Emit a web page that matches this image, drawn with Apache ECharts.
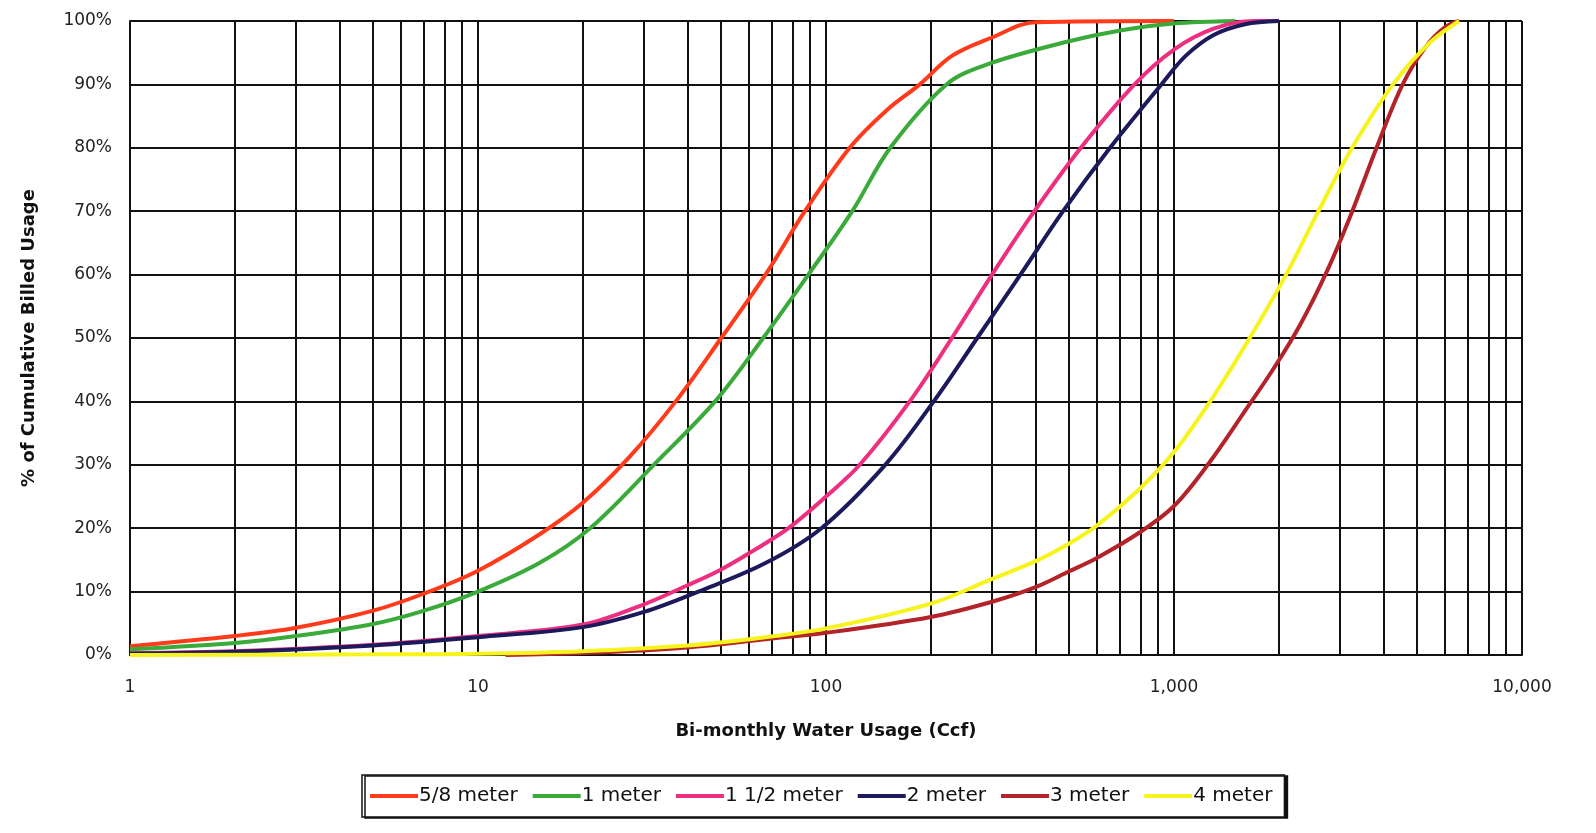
<!DOCTYPE html>
<html><head><meta charset="utf-8">
<script src="https://cdn.jsdelivr.net/npm/echarts@6/dist/echarts.min.js"></script>
<style>html,body{margin:0;padding:0;background:#fff}#c{width:1596px;height:833px}</style>
</head><body><div id="c"></div>
<script>
const seriesNames = ['5/8 meter','1 meter','1 1/2 meter','2 meter','3 meter','4 meter'];
const seriesColors = ['#ff3b1c','#3aab3a','#ee2f80','#1d1a5c','#b3242a','#f6f41c'];
const xTicks = [1,10,100,1000,10000];
const yTicks = [0,10,20,30,40,50,60,70,80,90,100];

const meter58 = [[1,1.4],[2,3],[3,4.3],[5,7],[7,9.7],[10,13.3],[15,19],[20,24],[27,31],[37,40],[50,50],[67,60],[87,70],[117,80],[150,86],[186,90],[230,94.5],[300,97.4],[400,99.8],[1000,100]];
const meter1 = [[1,0.9],[2,1.9],[3,3],[5,4.9],[7,7],[10,10],[15,14.5],[21,20],[32,30],[48,40],[66,50],[89,60],[119,70],[153,80],[222,90],[292,93.2],[482,96.6],[700,98.5],[1000,99.6],[1500,100]];
const meter112 = [[1,0.3],[2,0.6],[5,1.6],[10,3],[20,4.8],[30,8],[40,11],[50,13.5],[62,16.5],[78,20],[100,25],[125,30],[174,40],[230,50],[300,60],[397,70],[540,80],[770,90],[1000,95.5],[1300,98.8],[1700,100],[2000,100]];
const meter2 = [[1,0.2],[2,0.5],[5,1.5],[10,2.8],[20,4.4],[30,6.8],[43,10],[67,14.5],[97,20],[148,30],[204,40],[272,50],[362,60],[480,70],[655,80],[920,90],[1080,94.5],[1300,97.8],[1600,99.5],[2000,100]];
const meter3 = [[12,0],[20,0.3],[40,1.2],[67,2.5],[100,3.5],[200,6],[300,8.4],[400,10.7],[500,13.2],[600,15.3],[800,19.4],[1000,23.5],[1250,30],[1600,38.5],[1950,45.5],[2300,52],[2750,60.5],[3200,69],[3820,80],[4540,90],[5300,96],[6000,99],[6600,100]];
const meter4 = [[1,0],[5,0.1],[10,0.2],[20,0.6],[40,1.5],[67,2.8],[100,4.2],[200,8.1],[300,12],[400,14.8],[500,17.6],[600,20.4],[800,26.3],[1000,32],[1270,40],[1650,50],[2100,60],[2600,70],[3250,80],[4260,90],[5440,96.6],[6600,100]];
const allData = [meter58, meter1, meter112, meter2, meter3, meter4];

const minorX = [];
for (let d = 1; d < 10000; d *= 10) for (let k = 2; k <= 9; k++) minorX.push(d * k);

const FONT = 'DejaVu Sans';
const chart = echarts.init(document.getElementById('c'));
const series = seriesNames.map((n, i) => ({
  name: n, type: 'line', data: allData[i], smooth: 0.35, symbol: 'none',
  lineStyle: {width: 4, color: seriesColors[i]}, itemStyle: {color: seriesColors[i]}, z: 10 + i
}));
series.push({
  name: 'grid', type: 'line', data: [], silent: true, z: 2,
  markLine: {silent: true, symbol: 'none', label: {show: false},
    lineStyle: {color: '#111', width: 2, type: 'solid'},
    data: minorX.map(v => ({xAxis: v}))}
});
chart.setOption({
  animation: false,
  backgroundColor: '#fff',
  grid: {left: 130, right: 74, top: 21, bottom: 178},
  xAxis: {
    type: 'log', logBase: 10, min: 1, max: 10000,
    name: 'Bi-monthly Water Usage (Ccf)', nameLocation: 'middle', nameGap: 67,
    nameTextStyle: {fontFamily: FONT, fontWeight: 'bold', fontSize: 18, color: '#111'},
    axisLine: {lineStyle: {color: '#111', width: 2}}, axisTick: {show: false},
    axisLabel: {margin: 24, fontFamily: FONT, fontSize: 17, color: '#222',
      formatter: v => xTicks.includes(Math.round(v)) ? Math.round(v).toLocaleString('en-US') : ''},
    splitLine: {show: true, lineStyle: {color: '#111', width: 2}}
  },
  yAxis: {
    type: 'value', min: 0, max: 100, interval: 10,
    name: '% of Cumulative Billed Usage', nameLocation: 'middle', nameGap: 92, nameRotate: 90,
    nameTextStyle: {fontFamily: FONT, fontWeight: 'bold', fontSize: 18, color: '#111'},
    axisLine: {show: true, lineStyle: {color: '#111', width: 2}}, axisTick: {show: false},
    axisLabel: {margin: 18, fontFamily: FONT, fontSize: 17, color: '#222',
      formatter: v => yTicks.includes(v) ? v + '%' : ''},
    splitLine: {show: true, lineStyle: {color: '#111', width: 2}}
  },
  legend: {
    data: seriesNames, bottom: 16, left: 362,
    icon: 'rect', itemWidth: 48, itemHeight: 4, itemGap: 15,
    backgroundColor: '#fff',
    borderColor: '#111', borderWidth: 1.5, padding: [11, 12, 11, 8],
    shadowColor: '#111', shadowOffsetX: 3, shadowOffsetY: 1,
    textStyle: {fontFamily: FONT, fontSize: 20, color: '#111', padding: [0, 0, 0, -4]}
  },
  series: series
});
</script></body></html>
